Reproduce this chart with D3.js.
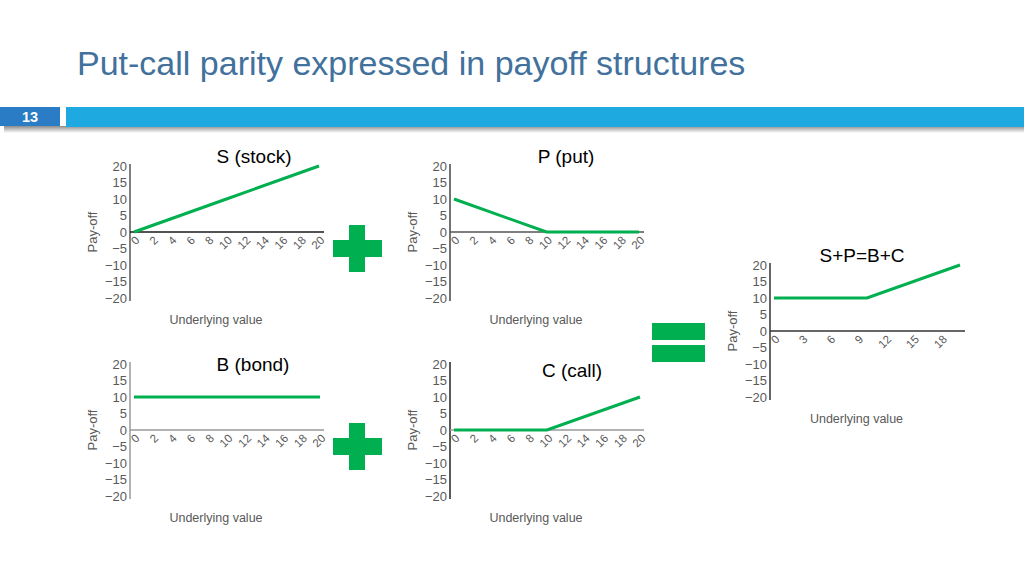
<!DOCTYPE html>
<html lang="en">
<head>
<meta charset="UTF-8" />
<script src="https://cdnjs.cloudflare.com/ajax/libs/d3/7.8.5/d3.min.js"></script>
<title>Put-call parity</title>
<style>
  body { margin: 0; background: #fff; }
  svg { display: block; font-family: "Liberation Sans", Arial, sans-serif; }
</style>
</head>
<body>
<div class="chart"></div>
<script>
  // data: pay-off at underlying 0, 10 (strike) and 20
  const underlying = [0, 10, 20]
  const stockPayoff = [0, 10, 20]
  const putPayoff = [10, 0, 0]
  const bondPayoff = [10, 10, 10]
  const callPayoff = [0, 0, 10]
  const parityPayoff = [10, 10, 20]

  const xTicksSmall = [0, 2, 4, 6, 8, 10, 12, 14, 16, 18, 20]
  const xTicksParity = [0, 3, 6, 9, 12, 15, 18]
  const yTicks = [20, 15, 10, 5, 0, -5, -10, -15, -20]

  const width = 1024
  const height = 575
  const green = '#00b050'
  const grey = '#595959'

  const svg = d3.select('.chart').append('svg')
    .attr('width', width)
    .attr('height', height)

  // slide header
  svg.append('text')
    .attr('x', 77).attr('y', 75)
    .attr('font-size', 34)
    .attr('fill', '#41719c')
    .text('Put-call parity expressed in payoff structures')

  const shade = svg.append('defs').append('linearGradient')
    .attr('id', 'shade').attr('x1', 0).attr('x2', 0).attr('y1', 0).attr('y2', 1)
  shade.append('stop').attr('offset', '0%').attr('stop-color', '#8c8c8c')
  shade.append('stop').attr('offset', '100%').attr('stop-color', '#ffffff')
  svg.append('rect').attr('x', 4).attr('y', 126).attr('width', 1020).attr('height', 7)
    .attr('fill', 'url(#shade)')
  svg.append('rect').attr('x', 0).attr('y', 107).attr('width', 60).attr('height', 19)
    .attr('fill', '#2a7cc4')
  svg.append('rect').attr('x', 66).attr('y', 107).attr('width', 958).attr('height', 20)
    .attr('fill', '#1ea9e1')
  svg.append('text')
    .attr('x', 30).attr('y', 122)
    .attr('text-anchor', 'middle')
    .attr('font-size', 14.5).attr('font-weight', 'bold')
    .attr('fill', '#fff')
    .text('13')

  // one small pay-off chart
  function drawPanel(p) {
    const g = svg.append('g')
    const yScale = d3.scaleLinear().domain([-20, 20]).range([p.bottom, p.top])
    const xScale = d3.scaleLinear().domain([0, 20]).range([p.x0, p.x1])
    const y0 = yScale(0)

    const yAxis = g.append('g')
      .attr('transform', `translate(${p.left},0)`)
      .call(d3.axisLeft(yScale).tickValues(yTicks).tickSize(0).tickPadding(3))
    yAxis.select('.domain').attr('stroke', p.yColor).attr('stroke-width', 1.5)
      .attr('d', `M0,${p.top - 2}V${p.bottom + 3}`)
    yAxis.selectAll('text')
      .attr('font-size', 13)
      .attr('font-family', '"Liberation Sans", Arial, sans-serif')
      .attr('fill', grey)

    const xAxis = g.append('g')
      .attr('transform', `translate(0,${y0})`)
      .call(d3.axisBottom(xScale).tickValues(p.xTicks).tickSize(0))
    xAxis.select('.domain').remove()
    xAxis.selectAll('text')
      .attr('font-size', 11.5)
      .attr('font-family', '"Liberation Sans", Arial, sans-serif')
      .attr('fill', grey)
      .attr('text-anchor', 'end')
      .attr('y', 0).attr('dy', '0.35em')
      .attr('transform', 'translate(3,6) rotate(-45)')
    g.append('line')
      .attr('x1', p.left).attr('x2', p.axisEnd)
      .attr('y1', y0).attr('y2', y0)
      .attr('stroke', p.xColor).attr('stroke-width', 1.5)

    const pts = underlying.map((u, i) => [u, p.values[i]])
    g.append('path')
      .datum(pts)
      .attr('fill', 'none')
      .attr('stroke', green)
      .attr('stroke-width', 3)
      .attr('d', d3.line().x(d => xScale(d[0])).y(d => yScale(d[1])))

    g.append('text')
      .attr('x', p.titleX).attr('y', p.titleY)
      .attr('text-anchor', 'middle')
      .attr('font-size', 19)
      .attr('fill', '#000')
      .text(p.title)
    g.append('text')
      .attr('transform', `translate(${p.left - 33},${y0}) rotate(-90)`)
      .attr('text-anchor', 'middle')
      .attr('font-size', 13)
      .attr('fill', grey)
      .text('Pay-off')
    g.append('text')
      .attr('x', (p.left + p.axisEnd) / 2 - 11).attr('y', p.bottom + 26)
      .attr('text-anchor', 'middle')
      .attr('font-size', 12.5)
      .attr('fill', grey)
      .text('Underlying value')
  }

  const panels = [
    { title: 'S (stock)', values: stockPayoff, xTicks: xTicksSmall, left: 130, top: 166, bottom: 298,
      x0: 134, x1: 319, axisEnd: 324, titleX: 254, titleY: 163, xColor: '#1a1a1a', yColor: '#555' },
    { title: 'P (put)', values: putPayoff, xTicks: xTicksSmall, left: 450, top: 166, bottom: 298,
      x0: 454, x1: 639, axisEnd: 644, titleX: 566, titleY: 163, xColor: '#555', yColor: '#444' },
    { title: 'B (bond)', values: bondPayoff, xTicks: xTicksSmall, left: 130, top: 364, bottom: 496,
      x0: 134, x1: 320, axisEnd: 324, titleX: 253, titleY: 371, xColor: '#9a9a9a', yColor: '#9a9a9a' },
    { title: 'C (call)', values: callPayoff, xTicks: xTicksSmall, left: 450, top: 364, bottom: 496,
      x0: 454, x1: 640, axisEnd: 644, titleX: 572, titleY: 377, xColor: '#9a9a9a', yColor: '#222' },
    { title: 'S+P=B+C', values: parityPayoff, xTicks: xTicksParity, left: 770, top: 265, bottom: 397,
      x0: 774, x1: 960, axisEnd: 965, titleX: 862, titleY: 262, xColor: '#333', yColor: '#333' }
  ]
  panels.forEach(drawPanel)

  // plus and equals signs
  const ops = svg.append('g').attr('fill', green)
  ;[248, 446].forEach(cy => {
    ops.append('rect').attr('x', 349).attr('y', cy - 23).attr('width', 16).attr('height', 47)
    ops.append('rect').attr('x', 333).attr('y', cy - 8).attr('width', 49).attr('height', 17)
  })
  ops.append('rect').attr('x', 652).attr('y', 323).attr('width', 53).attr('height', 17)
  ops.append('rect').attr('x', 652).attr('y', 345).attr('width', 53).attr('height', 17)
</script>
</body>
</html>
